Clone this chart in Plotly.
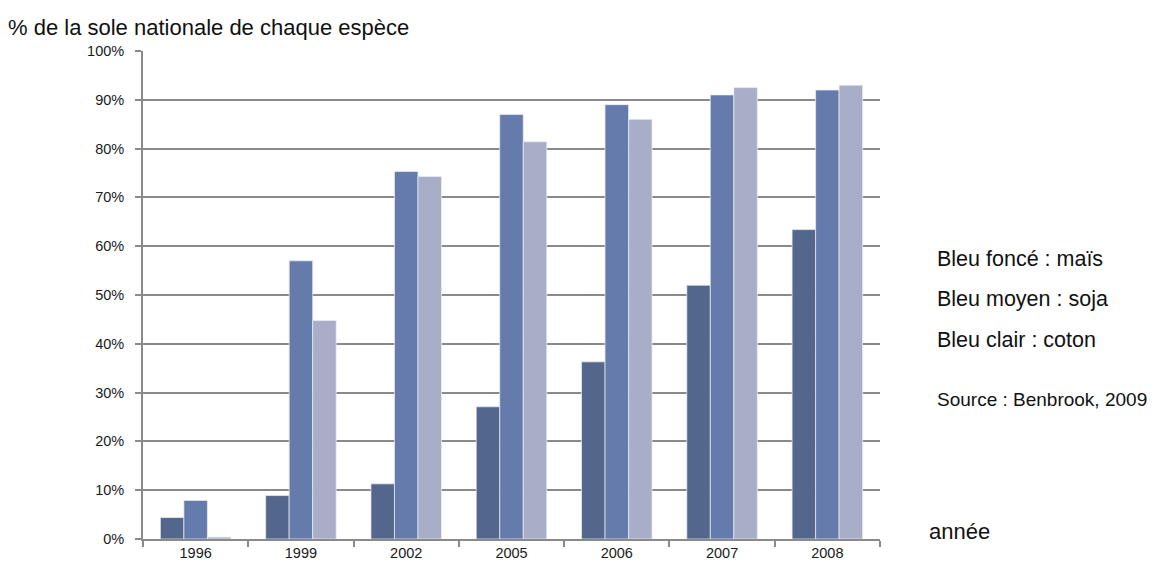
import plotly.graph_objects as go

annees = ["1996", "1999", "2002", "2005", "2006", "2007", "2008"]
mais = [4.4, 8.9, 11.3, 27.1, 36.3, 52.0, 63.4]
soja = [7.9, 57.0, 75.3, 87.0, 89.0, 91.0, 92.0]
coton = [0.4, 44.8, 74.3, 81.4, 86.0, 92.5, 93.0]

series = [
    ("maïs", mais, "#53678C"),
    ("soja", soja, "#657BAB"),
    ("coton", coton, "#A9AEC8"),
]

FONT = "Liberation Sans, Arial, sans-serif"
GRID = "#8A8A8A"

FIG_W, FIG_H = 1155, 572
L, R, T, B = 143, 275, 51, 33

fig = go.Figure()
for name, vals, col in series:
    fig.add_trace(go.Bar(
        x=annees, y=vals, name=name,
        marker=dict(color=col, line=dict(color="rgba(235,238,246,0.9)", width=0.8)),
    ))

fig.update_layout(
    width=FIG_W, height=FIG_H,
    margin=dict(l=L, r=R, t=T, b=B),
    paper_bgcolor="white", plot_bgcolor="white",
    barmode="group", bargap=0.33, bargroupgap=0,
    showlegend=False,
    font=dict(family=FONT, color="#1a1a1a"),
    xaxis=dict(
        type="category", tickson="boundaries",
        ticks="outside", ticklen=6, tickcolor=GRID, tickwidth=1.5,
        showline=True, linecolor=GRID, linewidth=1.8,
        showgrid=False, tickfont=dict(size=14.5, family=FONT, color="#1a1a1a"),
    ),
    yaxis=dict(
        range=[0, 100], dtick=10, ticksuffix="%",
        ticks="outside", ticklen=6, tickcolor=GRID, tickwidth=1.5,
        showline=True, linecolor=GRID, linewidth=1.8,
        showgrid=True, gridcolor=GRID, gridwidth=1.8,
        zeroline=False, ticklabelstandoff=8,
        tickfont=dict(size=14.5, family=FONT, color="#1a1a1a"),
    ),
)

def note(text, x, y, size):
    fig.add_annotation(text=text, xref="paper", yref="paper", x=x, y=y,
                       xanchor="left", yanchor="middle", showarrow=False,
                       font=dict(size=size, family=FONT, color="#111111"))

W = FIG_W - L - R
H = FIG_H - T - B
def px(xp):
    return (xp - L) / W
def py(yp):
    return (FIG_H - B - yp) / H

note("% de la sole nationale de chaque espèce", px(6), py(28), 22)
note("Bleu foncé : maïs", px(935), py(259), 21.5)
note("Bleu moyen : soja", px(935), py(299), 21.5)
note("Bleu clair : coton", px(935), py(340), 21.5)
note("Source : Benbrook, 2009", px(935), py(399), 19)
note("année", px(927), py(531), 22)

fig.write_html(
    "out.html",
    config={"displayModeBar": False},
    post_script="document.body.style.margin='0';document.body.style.overflow='hidden';",
)
